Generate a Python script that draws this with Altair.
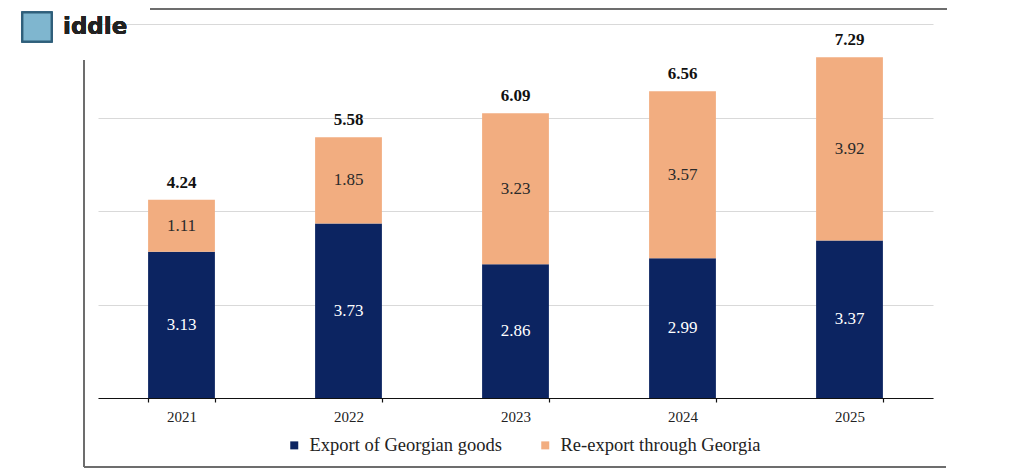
import altair as alt
import pandas as pd

years = ["2021", "2022", "2023", "2024", "2025"]
export_vals = [3.13, 3.73, 2.86, 2.99, 3.37]
reexport_vals = [1.11, 1.85, 3.23, 3.57, 3.92]
totals = [4.24, 5.58, 6.09, 6.56, 7.29]
series_names = ["Export of Georgian goods", "Re-export through Georgia"]
colors = ["#0C2461", "#F2AD80"]

rows = []
for y, e, r in zip(years, export_vals, reexport_vals):
    rows.append({"year": y, "series": series_names[0], "value": e, "ord": 0})
    rows.append({"year": y, "series": series_names[1], "value": r, "ord": 1})
df = pd.DataFrame(rows)
tot_df = pd.DataFrame({"year": years, "total": totals})

SERIF = "Liberation Serif"

xenc = alt.X(
    "year:N",
    sort=years,
    title=None,
    scale=alt.Scale(paddingInner=0.6, paddingOuter=0.3),
    axis=alt.Axis(
        labelFont=SERIF, labelFontSize=15, labelColor="#222", labelAngle=0,
        labelPadding=7, domainColor="#111", domainWidth=1.2, tickColor="#111",
        tickSize=4, tickWidth=1.2, tickBand="extent", grid=False,
    ),
)

yscale = alt.Scale(domain=[0, 8], nice=False)

base = alt.Chart(df).transform_stack(
    stack="value", groupby=["year"], as_=["v0", "v1"],
    sort=[alt.SortField("ord", order="ascending")],
).transform_calculate(mid="(datum.v0 + datum.v1) / 2")

bars = base.mark_bar().encode(
    x=xenc,
    y=alt.Y("v0:Q", scale=yscale, title=None,
            axis=alt.Axis(values=[0, 2, 4, 6, 8], labels=False, ticks=False, domain=False,
                          grid=True, gridColor="#d9d9d9", gridWidth=1)),
    y2="v1:Q",
    color=alt.Color("series:N", scale=alt.Scale(domain=series_names, range=colors),
                    legend=alt.Legend(title=None, orient="none", legendX=187, legendY=412,
                                      direction="horizontal", symbolType="square",
                                      symbolSize=64, symbolStrokeWidth=0,
                                      labelFont=SERIF, labelFontSize=18.5, labelColor="#222",
                                      labelLimit=0, labelOffset=6, columnPadding=34, padding=0)),
)

seg_labels = base.mark_text(font=SERIF, fontSize=17, baseline="middle").encode(
    x=alt.X("year:N", sort=years),
    y=alt.Y("mid:Q", scale=yscale),
    text=alt.Text("value:Q", format=".2f"),
    color=alt.condition(alt.datum.ord == 0, alt.value("#ffffff"), alt.value("#2a2a2a")),
)

tot_labels = alt.Chart(tot_df).mark_text(
    font=SERIF, fontSize=17, fontWeight="bold", baseline="bottom", dy=-8, color="#111"
).encode(
    x=alt.X("year:N", sort=years),
    y=alt.Y("total:Q", scale=yscale),
    text=alt.Text("total:Q", format=".2f"),
)

frame_col = "#6e6e6e"
left_line = alt.Chart(tot_df).mark_rule(color=frame_col, strokeWidth=1.5).encode(
    x=alt.value(-14), y=alt.value(36), y2=alt.value(443))
bottom_line = alt.Chart(tot_df).mark_rule(color=frame_col, strokeWidth=1.5).encode(
    x=alt.value(-14), x2=alt.value(848), y=alt.value(443))
top_line = alt.Chart(tot_df).mark_rule(color=frame_col, strokeWidth=1.5).encode(
    x=alt.value(52), x2=alt.value(849), y=alt.value(-15))

logo_icon = alt.Chart(tot_df).mark_point(
    shape="square", filled=True, color="#7fb6cf", stroke="#2f5f7a", strokeWidth=2, size=850, opacity=1
).encode(x=alt.value(-61), y=alt.value(3))
logo_text = alt.Chart(tot_df).mark_text(
    text="iddle", font="DejaVu Sans", fontSize=23, fontWeight="bold", color="#222",
    align="left", baseline="alphabetic"
).encode(x=alt.value(-35), y=alt.value(10))

chart = alt.layer(
    bars, seg_labels, tot_labels, left_line, bottom_line, top_line, logo_icon, logo_text
).properties(
    width=835, height=374,
    autosize=alt.AutoSizeParams(type="none"),
    padding={"left": 90, "top": 16, "right": 80, "bottom": 70},
    background="#ffffff",
).configure_view(stroke=None)

chart.save("out.html", embed_options={"renderer": "svg", "actions": False})
